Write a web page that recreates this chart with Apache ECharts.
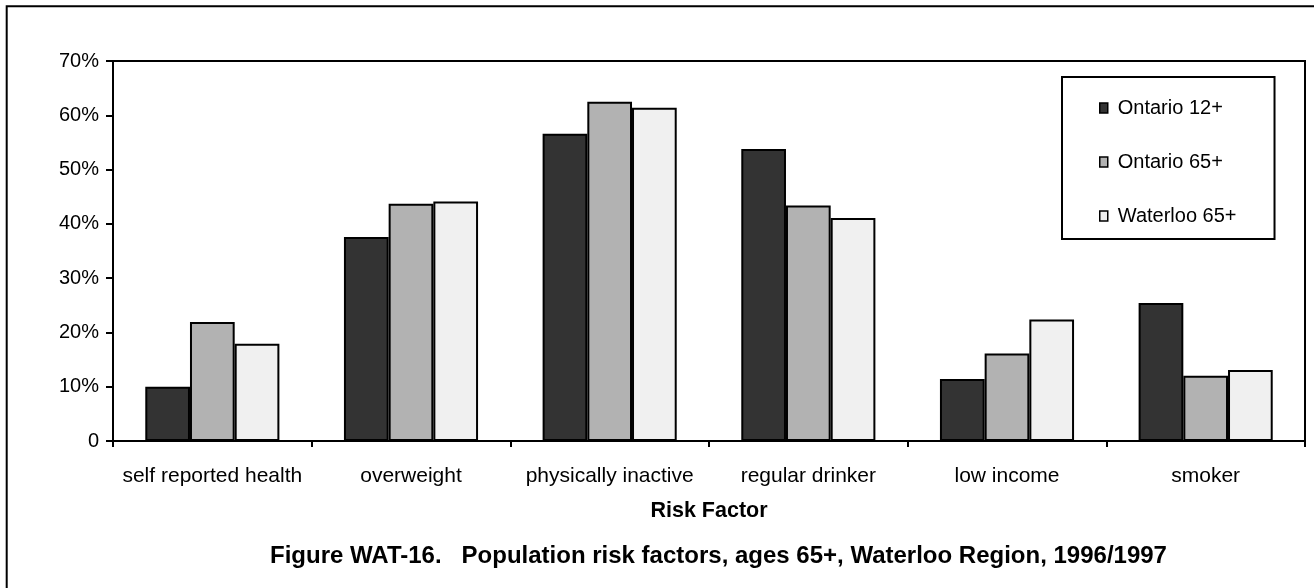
<!DOCTYPE html>
<html>
<head>
<meta charset="utf-8">
<script src="https://cdn.jsdelivr.net/npm/echarts@6/dist/echarts.min.js"></script>
<style>
html,body{margin:0;padding:0;background:#fff;}
#chart{width:1314px;height:588px;}
</style>
</head>
<body>
<div id="chart"></div>
<script>
const categories = ['self reported health', 'overweight', 'physically inactive', 'regular drinker', 'low income', 'smoker'];
const ontario12 = [10.0, 37.6, 56.6, 53.8, 11.4, 25.4];
const ontario65 = [21.9, 43.7, 62.5, 43.4, 16.1, 12.0];
const waterloo65 = [17.9, 44.1, 61.4, 41.1, 22.4, 13.1];
const seriesNames = ['Ontario 12+', 'Ontario 65+', 'Waterloo 65+'];
const seriesColors = ['#333333', '#b2b2b2', '#f0f0f0'];
const yTicks = [0, 10, 20, 30, 40, 50, 60, 70];
const xAxisTitle = 'Risk Factor';
const chartTitle = 'Figure WAT-16.   Population risk factors, ages 65+, Waterloo Region, 1996/1997';

const FONT = '"Liberation Sans", Arial, sans-serif';
const chart = echarts.init(document.getElementById('chart'), null, {renderer: 'canvas'});
const values = [ontario12, ontario65, waterloo65];

chart.setOption({
  animation: false,
  backgroundColor: '#ffffff',
  textStyle: {fontFamily: FONT, color: '#000'},
  title: {
    text: chartTitle,
    left: 270,
    top: 544,
    padding: 0,
    textStyle: {fontFamily: FONT, fontSize: 24, fontWeight: 'bold', color: '#000'}
  },
  graphic: [{
    type: 'rect',
    shape: {x: 6.7, y: 6.3, width: 1400, height: 700},
    style: {fill: 'none', stroke: '#000', lineWidth: 2},
    silent: true,
    z: 100
  }],
  legend: {
    orient: 'vertical',
    left: 1062,
    top: 77,
    padding: [21, 38, 13, 37],
    itemGap: 34,
    itemWidth: 8,
    itemHeight: 10,
    icon: 'rect',
    borderColor: '#000',
    borderWidth: 2,
    backgroundColor: '#fff',
    textStyle: {fontFamily: FONT, fontSize: 20, color: '#000', padding: [0, 0, 0, 5]},
    itemStyle: {borderColor: '#000', borderWidth: 1.5},
    data: seriesNames
  },
  grid: {
    left: 113, top: 61, right: 9, bottom: 147,
    show: true, borderColor: '#000', borderWidth: 2,
    containLabel: false
  },
  xAxis: {
    type: 'category',
    data: categories,
    axisLine: {lineStyle: {color: '#000', width: 2}},
    axisTick: {show: true, length: 6, lineStyle: {color: '#000', width: 2}},
    axisLabel: {fontFamily: FONT, fontSize: 21, color: '#000', margin: 25, interval: 0},
    name: xAxisTitle,
    nameLocation: 'middle',
    nameGap: 59,
    nameTextStyle: {fontFamily: FONT, fontSize: 21.5, fontWeight: 'bold', color: '#000'}
  },
  yAxis: {
    type: 'value',
    min: yTicks[0],
    max: yTicks[yTicks.length - 1],
    interval: 10,
    splitLine: {show: false},
    axisLine: {show: true, lineStyle: {color: '#000', width: 2}},
    axisTick: {show: true, length: 7, lineStyle: {color: '#000', width: 2}},
    axisLabel: {
      fontFamily: FONT, fontSize: 20, color: '#000', margin: 14,
      formatter: v => v === 0 ? '0' : v + '%'
    }
  },
  series: values.map((vals, i) => ({
    type: 'bar',
    name: seriesNames[i],
    data: vals,
    barWidth: '22.5%',
    barGap: '0%',
    itemStyle: {color: seriesColors[i], borderColor: '#000', borderWidth: 2}
  }))
});
</script>
</body>
</html>
